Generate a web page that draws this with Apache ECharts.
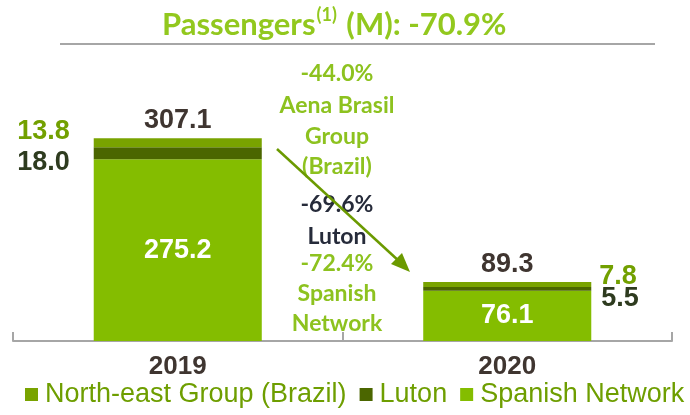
<!DOCTYPE html>
<html><head><meta charset="utf-8">
<script src="https://cdn.jsdelivr.net/npm/echarts@6/dist/echarts.min.js"></script>
<style>html,body{margin:0;padding:0;background:#fff}#c{width:690px;height:415px}</style>
</head><body><div id="c"></div>
<script>
const years = ['2019', '2020'];
const spanish = [275.2, 76.1];
const luton = [18.0, 5.5];
const northEast = [13.8, 7.8];
const totals = [307.1, 89.3];
const seriesNames = ['North-east Group (Brazil)', 'Luton', 'Spanish Network'];
const colors = { ne: '#79A300', luton: '#4B6600', spanish: '#84BD00' };

const chart = echarts.init(document.getElementById('c'), null, { renderer: 'canvas' });
const lblFont = 'Liberation Sans, Arial, sans-serif';
const annFont = 'Lato, Calibri, sans-serif';

function ann(text, y, color) {
  return { type: 'text', x: 337, y: y, style: { text: text, fontFamily: annFont, fontWeight: 'bold', fontSize: 23, fill: color, align: 'center', verticalAlign: 'middle' } };
}

chart.setOption({
  animation: false,
  title: {
    text: '{a|Passengers}{s|(1)}{a| (M): -70.9%}',
    left: 157, top: 1,
    textStyle: {
      rich: {
        a: { fontFamily: annFont, fontWeight: 'bold', fontSize: 31, color: '#92C81E', lineHeight: 38 },
        s: { fontFamily: annFont, fontWeight: 'bold', fontSize: 18, color: '#92C81E', lineHeight: 38, verticalAlign: 'top', padding: [0, 2, 12, 1] }
      }
    }
  },
  grid: { left: 13, right: 18, top: 80, bottom: 74 },
  legend: {
    data: seriesNames,
    bottom: 2, left: 20, width: 690, padding: 5,
    icon: 'rect', itemWidth: 13, itemHeight: 13, itemGap: 13,
    textStyle: { fontFamily: lblFont, fontSize: 27, color: '#6E9E00', padding: [0, 0, 0, 2] }
  },
  xAxis: {
    type: 'category', data: years,
    axisLine: { lineStyle: { color: '#A6A6A6', width: 2 } },
    axisTick: { show: true, inside: true, length: 9, lineStyle: { color: '#A6A6A6', width: 2 } },
    axisLabel: { fontFamily: lblFont, fontWeight: 'bold', fontSize: 26, color: '#3F3530', margin: 13 }
  },
  yAxis: { type: 'value', min: 0, max: 395, show: false, splitLine: { show: false } },
  series: [
    {
      name: 'Spanish Network', type: 'bar', stack: 't', barWidth: '51%',
      itemStyle: { color: colors.spanish },
      data: spanish,
      label: { show: true, position: 'inside', fontFamily: lblFont, fontWeight: 'bold', fontSize: 27, color: '#fff' }
    },
    {
      name: 'Luton', type: 'bar', stack: 't',
      itemStyle: { color: colors.luton },
      data: luton.map((v, i) => ({ value: v, label: i === 0 ? { position: 'left', offset: [0, 9], distance: 24 } : { position: 'right', offset: [0, 10], distance: 10 } })),
      label: { show: true, fontFamily: lblFont, fontWeight: 'bold', fontSize: 27, color: '#2E3B1F', formatter: p => p.value.toFixed(1) }
    },
    {
      name: 'North-east Group (Brazil)', type: 'bar', stack: 't',
      itemStyle: { color: colors.ne },
      data: northEast.map((v, i) => ({ value: v, label: i === 0 ? { position: 'left', offset: [0, -11], distance: 24 } : { position: 'right', offset: [0, -8], distance: 8 } })),
      label: { show: true, fontFamily: lblFont, fontWeight: 'bold', fontSize: 27, color: '#72A000', formatter: p => p.value.toFixed(1) }
    },
    {
      name: 'Total', type: 'scatter', symbolSize: 0, data: totals,
      itemStyle: { opacity: 1 },
      label: { show: true, opacity: 1, position: 'top', distance: 4, fontFamily: lblFont, fontWeight: 'bold', fontSize: 27, color: '#3F3530', formatter: p => p.value.toFixed(1) }
    }
  ],
  graphic: [
    ann('-44.0%', 74, '#8DC21F'),
    ann('Aena Brasil', 106, '#8DC21F'),
    ann('Group', 137, '#8DC21F'),
    ann('(Brazil)', 167, '#8DC21F'),
    ann('-69.6%', 205, '#262B3A'),
    ann('Luton', 237, '#262B3A'),
    ann('-72.4%', 264, '#8DC21F'),
    ann('Spanish', 294, '#8DC21F'),
    ann('Network', 324, '#8DC21F'),
    { type: 'line', shape: { x1: 60, y1: 44, x2: 655, y2: 44 }, style: { stroke: '#A6A6A6', lineWidth: 2 } },
    { type: 'line', shape: { x1: 277, y1: 149, x2: 400, y2: 262 }, style: { stroke: '#6B9A00', lineWidth: 2.5 } },
    { type: 'polygon', shape: { points: [[410, 272], [391, 264], [402, 253]] }, style: { fill: '#6B9A00' } }
  ]
});
</script></body></html>
